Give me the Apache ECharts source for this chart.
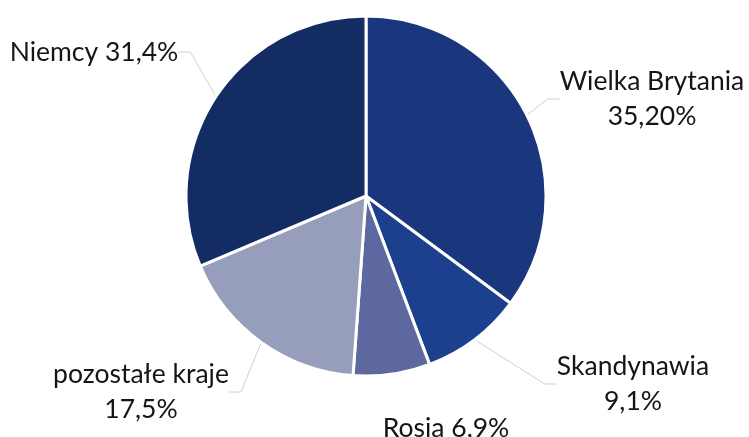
<!DOCTYPE html>
<html>
<head>
<meta charset="utf-8">
<script src="https://cdn.jsdelivr.net/npm/echarts@6/dist/echarts.min.js"></script>
<style>
  html, body { margin: 0; padding: 0; background: #fff; }
  #chart { width: 749px; height: 437px; }
</style>
</head>
<body>
<div id="chart"></div>
<script>
// dane
var categories = ['Wielka Brytania', 'Skandynawia', 'Rosja', 'pozostałe kraje', 'Niemcy'];
var values = [35.2, 9.1, 6.9, 17.5, 31.4];
var pctLabels = ['35,20%', '9,1%', '6,9%', '17,5%', '31,4%'];
var colors = ['#1a377d', '#1c3f8e', '#5c689f', '#979ebb', '#132c64'];

// pozycje etykiet (środek bloku tekstu)
var labelPos = [[652, 99], [633, 384], [446, 428], [141, 392], [94, 52]];
var oneLine = [false, false, true, false, true];

var myChart = echarts.init(document.getElementById('chart'));

var seriesData = categories.map(function (name, i) {
    return {
        name: name,
        value: values[i],
        itemStyle: { color: colors[i] },
        labelLine: { show: i !== 2 }
    };
});

var option = {
    animation: false,
    series: [
        {
            type: 'pie',
            center: [366, 196],
            radius: [0, 180],
            startAngle: 90,
            clockwise: true,
            data: seriesData,
            itemStyle: {
                borderColor: '#fff',
                borderWidth: 3
            },
            label: {
                show: true,
                position: 'outside',
                overflow: 'none',
                fontFamily: 'Lato',
                fontSize: 26.5,
                lineHeight: 35,
                color: '#151515',
                align: 'center',
                formatter: function (p) {
                    var i = p.dataIndex;
                    return p.name + (oneLine[i] ? ' ' : '\n') + pctLabels[i];
                }
            },
            labelLine: {
                show: true,
                length: 15,
                length2: 12,
                lineStyle: { color: '#d0d0d0', width: 1 }
            },
            labelLayout: function (params) {
                var pos = labelPos[params.dataIndex];
                return {
                    x: pos[0],
                    y: pos[1],
                    align: 'center',
                    verticalAlign: 'middle'
                };
            }
        }
    ]
};

myChart.setOption(option);
</script>
</body>
</html>
